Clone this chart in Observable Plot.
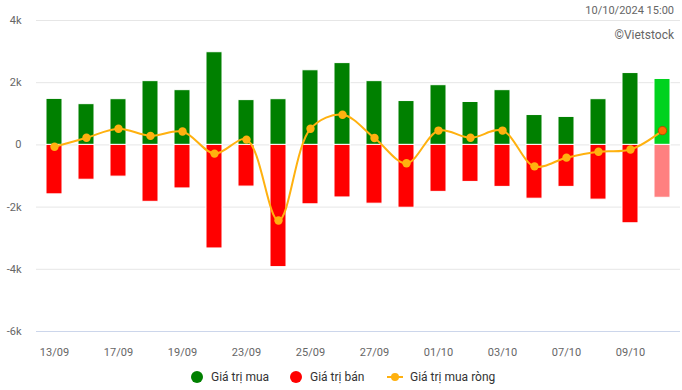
<!DOCTYPE html>
<html>
<head>
<meta charset="utf-8">
<script src="https://cdn.jsdelivr.net/npm/d3@7"></script>
<script src="https://cdn.jsdelivr.net/npm/@observablehq/plot@0.6"></script>
<style>
  html, body { margin: 0; padding: 0; background: #fff; }
  body { width: 682px; height: 390px; position: relative; overflow: hidden; font-family: Roboto, "Liberation Sans", sans-serif; }
  #chart { position: absolute; left: 0; top: 0; }
  .stamp { position: absolute; right: 8px; font-size: 11px; color: #666; }
  #legend { position: absolute; top: 369px; left: 0; width: 682px; height: 18px; font-size: 12px; color: #333; }
  .item { position: absolute; top: 0; display: flex; align-items: center; height: 16px; }
  .sw { width: 12px; height: 12px; border-radius: 50%; margin-right: 8px; }
</style>
</head>
<body>
<div id="chart"></div>
<div class="stamp" style="top:4px;">10/10/2024 15:00</div>
<div class="stamp" style="top:28px;font-size:12px;">©Vietstock</div>
<div id="legend">
  <div class="item" style="left:191px;"><div class="sw" style="background:#008000"></div>Giá trị mua</div>
  <div class="item" style="left:290px;"><div class="sw" style="background:#ff0000"></div>Giá trị bán</div>
  <div class="item" style="left:387px;">
    <svg width="18" height="12" style="margin-right:5px"><line x1="0" y1="6" x2="16" y2="6" stroke="#ffb10f" stroke-width="2"/><circle cx="8" cy="6" r="4" fill="#ffb10f"/></svg>Giá trị mua ròng</div>
</div>
<script>
const dates = ["13/09","16/09","17/09","18/09","19/09","20/09","23/09","24/09","25/09","26/09","27/09","30/09","01/10","02/10","03/10","04/10","07/10","08/10","09/10","10/10"];
const buy  = [1480,1310,1470,2050,1760,2980,1440,1470,2400,2630,2050,1410,1920,1380,1760,960,900,1470,2310,2120];
const sell = [-1590,-1120,-1020,-1830,-1400,-3330,-1340,-3930,-1910,-1690,-1890,-2020,-1510,-1190,-1350,-1730,-1350,-1760,-2520,-1700];
const net  = [-60,230,520,290,430,-280,170,-2430,520,970,220,-590,460,230,460,-690,-410,-220,-150,460];
const tickDates = ["13/09","17/09","19/09","23/09","25/09","27/09","01/10","03/10","07/10","09/10"];
const yTicks = [-6000,-4000,-2000,0,2000,4000];

const last = dates[dates.length - 1];
const rows = dates.map((d, i) => ({date: d, buy: buy[i], sell: sell[i], net: net[i], last: d === last}));

const chart = Plot.plot({
  width: 682,
  height: 365,
  marginTop: 20,
  marginBottom: 34,
  marginLeft: 36,
  marginRight: 2,
  style: {fontFamily: "Roboto, 'Liberation Sans', sans-serif", fontSize: "11px", color: "#666", background: "transparent"},
  x: {type: "band", domain: dates, paddingInner: 0.5, paddingOuter: 0.25},
  y: {domain: [-6000, 4000]},
  marks: [
    Plot.ruleY(yTicks.filter(v => v !== -6000), {stroke: "#e6e6e6", strokeWidth: 1}),
    Plot.ruleY([-6000], {stroke: "#ccd6eb", strokeWidth: 1}),
    Plot.axisY({ticks: yTicks, tickSize: 0, tickPadding: 15, tickFormat: v => v === 0 ? "0" : (v / 1000) + "k", fill: "#666", fontSize: 11, label: null}),
    Plot.axisX({ticks: tickDates, tickSize: 0, tickPadding: 17, fill: "#666", fontSize: 11, label: null}),
    Plot.barY(rows, {x: "date", y1: 0, y2: "buy", fill: d => d.last ? "#00d21e" : "#008000", stroke: "#fff", strokeWidth: 1}),
    Plot.barY(rows, {x: "date", y1: 0, y2: "sell", fill: d => d.last ? "#ff8080" : "#ff0000", stroke: "#fff", strokeWidth: 1}),
    Plot.line(rows, {x: "date", y: "net", stroke: "#ffb10f", strokeWidth: 2, curve: "catmull-rom"}),
    Plot.dot(rows.filter(d => !d.last), {x: "date", y: "net", r: 4.2, fill: "#ffb10f"}),
    Plot.dot(rows.filter(d => d.last), {x: "date", y: "net", r: 4.2, fill: "#ff6a00", stroke: "#b84c00", strokeWidth: 1})
  ]
});
document.getElementById("chart").appendChild(chart);
</script>
</body>
</html>
